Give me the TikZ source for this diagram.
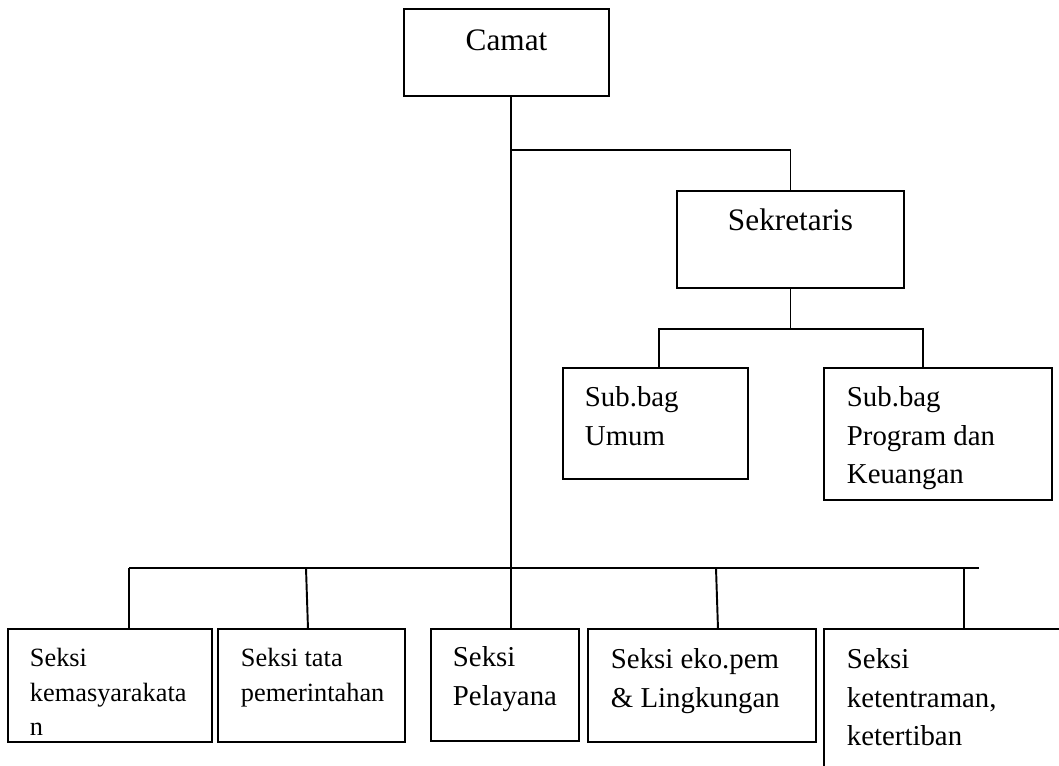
\documentclass[tikz,border=0pt]{standalone}
\usepackage{fontspec}
\setmainfont{Liberation Serif}
\usetikzlibrary{calc}
\begin{document}
\begin{tikzpicture}[x=0.02cm,y=-0.02cm,line width=1.1pt,
    kotak/.style 2 args={draw, rectangle, anchor=north west, inner sep=0pt, outer sep=0pt,
        minimum width=#1*0.02cm, minimum height=#2*0.02cm},
    judul/.style={anchor=base, inner sep=0pt, font=\fontsize{17.8}{21}\selectfont},
    isi/.style={anchor=north west, inner sep=0pt, align=left, font=\fontsize{16.4}{21.8}\selectfont},
    isikecil/.style={isi, font=\fontsize{15}{19.8}\selectfont}]
    \clip (0,0) rectangle (1059,765);
    % kotak
    \node[kotak={205}{87}] (camat) at (404,9) {};
    \node[kotak={227}{97}] (sekretaris) at (677,191) {};
    \node[kotak={185}{111}] (umum) at (563,368) {};
    \node[kotak={228}{132}] (program) at (824,368) {};
    \node[kotak={204}{113}] (seksi1) at (8,629) {};
    \node[kotak={187}{113}] (seksi2) at (218,629) {};
    \node[kotak={148}{112}] (seksi3) at (431,629) {};
    \node[kotak={228}{113}] (seksi4) at (588,629) {};
    \node[kotak={260}{160}] (seksi5) at (824,629) {};
    % teks
    \node[judul] (camatteks) at ($(camat.north)+(0,41)$) {Camat};
    \node[judul] (sekretaristeks) at ($(sekretaris.north)+(0,39)$) {Sekretaris};
    \node[isi] (umumteks) at ($(umum.north west)+(21,18)$) {Sub.bag\\Umum};
    \node[isi] (programteks) at ($(program.north west)+(22,18)$) {Sub.bag\\Program dan\\Keuangan};
    \node[isikecil] (seksi1teks) at ($(seksi1.north west)+(21,18)$) {Seksi\\kemasyarakata\\n};
    \node[isikecil] (seksi2teks) at ($(seksi2.north west)+(22,18)$) {Seksi tata\\pemerintahan};
    \node[isi] (seksi3teks) at ($(seksi3.north west)+(21,17)$) {Seksi\\Pelayana};
    \node[isi] (seksi4teks) at ($(seksi4.north west)+(22,19)$) {Seksi eko.pem\\\& Lingkungan};
    \node[isi] (seksi5teks) at ($(seksi5.north west)+(22,19)$) {Seksi\\ketentraman,\\ketertiban};
    % garis
    \coordinate (cabang) at (511,150);
    \coordinate (buskiri) at (129,568);
    \coordinate (buskanan) at (979,568);
    \draw (camat.south -| cabang) -- (seksi3.north -| cabang);
    \draw (cabang) -| (sekretaris.north);
    \draw (sekretaris.south) -- ++(0,41) coordinate (subbus);
    \draw ($(umum.north west)+(96,0)$) |- (subbus) -| ($(program.north west)+(99,0)$);
    \draw (buskiri) -- (buskanan);
    \foreach \kotak/\atas/\bawah in {seksi1/121/121, seksi2/88/90, seksi4/128/130, seksi5/140/140}
        \draw ($(\kotak.north west)+(\atas,-61)$) -- ($(\kotak.north west)+(\bawah,0)$);
\end{tikzpicture}
\end{document}
